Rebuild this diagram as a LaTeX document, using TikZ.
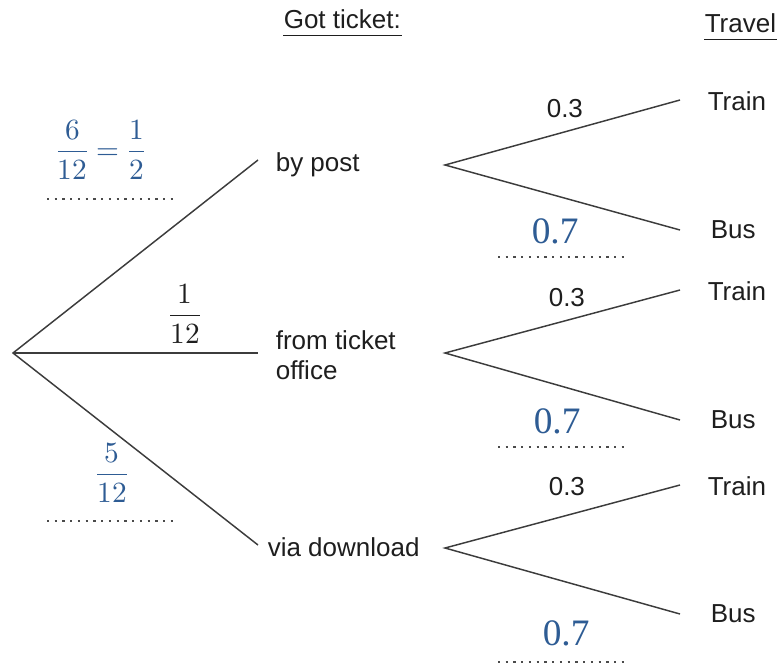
\documentclass[tikz,border=0pt]{standalone}
\usepackage{fontspec}
\usepackage{unicode-math}
\setmainfont{Liberation Sans}
\setmathfont{Latin Modern Math}
\newfontfamily\answerfont{Liberation Serif}
\usetikzlibrary{positioning}
\definecolor{cink}{HTML}{1E1E1E}
\definecolor{cline}{HTML}{3C3C3C}
\definecolor{cblue}{HTML}{2E5C94}
\definecolor{cdots}{HTML}{4A4A4A}
\tikzset{
  every picture/.style={line width=1.2pt},
  branch/.style={draw=cline, line width=1.1pt},
  lbl/.style={font=\fontsize{19.5}{22.5}\selectfont, text=cink, inner sep=0pt, anchor=base west},
  answer/.style={font=\answerfont\fontsize{28}{32}\selectfont, text=cblue, inner sep=0pt, anchor=base west},
  frac/.style={font=\fontsize{22}{26}\selectfont, inner sep=0pt, anchor=base},
  gap/.style={draw=cdots, line width=1.7pt, dash pattern=on 1.7pt off 4.1pt},
  headline/.style={draw=cink, line width=1.1pt},
}

\begin{document}
\begin{tikzpicture}[x=0.75pt, y=-0.75pt]
  \useasboundingbox (0,0) rectangle (777,664);
  \newcommand{\travelfork}[4]{% name, fork y, train y, bus y
    \coordinate (#1) at (445,#2);
    \coordinate (#1-train) at (680,#3);
    \coordinate (#1-bus) at (680,#4);
    \draw[branch] (#1-train) -- (#1) -- (#1-bus);
    \node[lbl] (#1-ttrain) at (707,{#3+10}) {Train};
    \node[lbl] (#1-tbus) at (710,{#4+8}) {Bus};
  }
  % headings
  \node[lbl] (hticket) at (283,28) {Got ticket:};
  \node[lbl] (htravel) at (704,32) {Travel};
  \draw[headline] ([yshift=-5pt]hticket.south west) -- ([yshift=-5pt]hticket.south east);
  \draw[headline] ([yshift=-5pt]htravel.south west) -- ([yshift=-5pt]htravel.south east);
  % first level
  \coordinate (root) at (13,353);
  \coordinate (post) at (258,160);
  \coordinate (office) at (258,353);
  \coordinate (download) at (258,545);
  \draw[branch] (post) -- (root) -- (download);
  \draw[branch] (root) -- (office);
  \node[lbl] (tpost) at (275,171) {by post};
  \node[lbl] (toffice) at (275,349) {from ticket};
  \node[lbl] (toffice2) at (275,379) {office};
  \node[lbl] (tdownload) at (267,556) {via download};
  % first level probabilities
  \node[frac, text=cblue] (ppost) at (101,159) {$\displaystyle\frac{6}{12}=\frac{1}{2}$};
  \node[frac, text=cink] (poffice) at (185,323) {$\displaystyle\frac{1}{12}$};
  \node[frac, text=cblue] (pdownload) at (112,482) {$\displaystyle\frac{5}{12}$};
  \draw[gap] (47,199) -- (174,199);
  \draw[gap] (47,521) -- (174,521);
  % second level
  \travelfork{fpost}{165}{100}{230}
  \travelfork{foffice}{353}{290}{420}
  \travelfork{fdownload}{548}{485}{614}
  \node[lbl] (qpost) at (546,117) {0.3};
  \node[lbl] (qoffice) at (548,306) {0.3};
  \node[lbl] (qdownload) at (548,495) {0.3};
  \node[answer] (apost) at (531,243) {0.7};
  \node[answer] (aoffice) at (533,433) {0.7};
  \node[answer] (adownload) at (542,645) {0.7};
  \draw[gap] (498,257) -- (625,257);
  \draw[gap] (498,447) -- (625,447);
  \draw[gap] (498,662) -- (625,662);
\end{tikzpicture}
\end{document}
